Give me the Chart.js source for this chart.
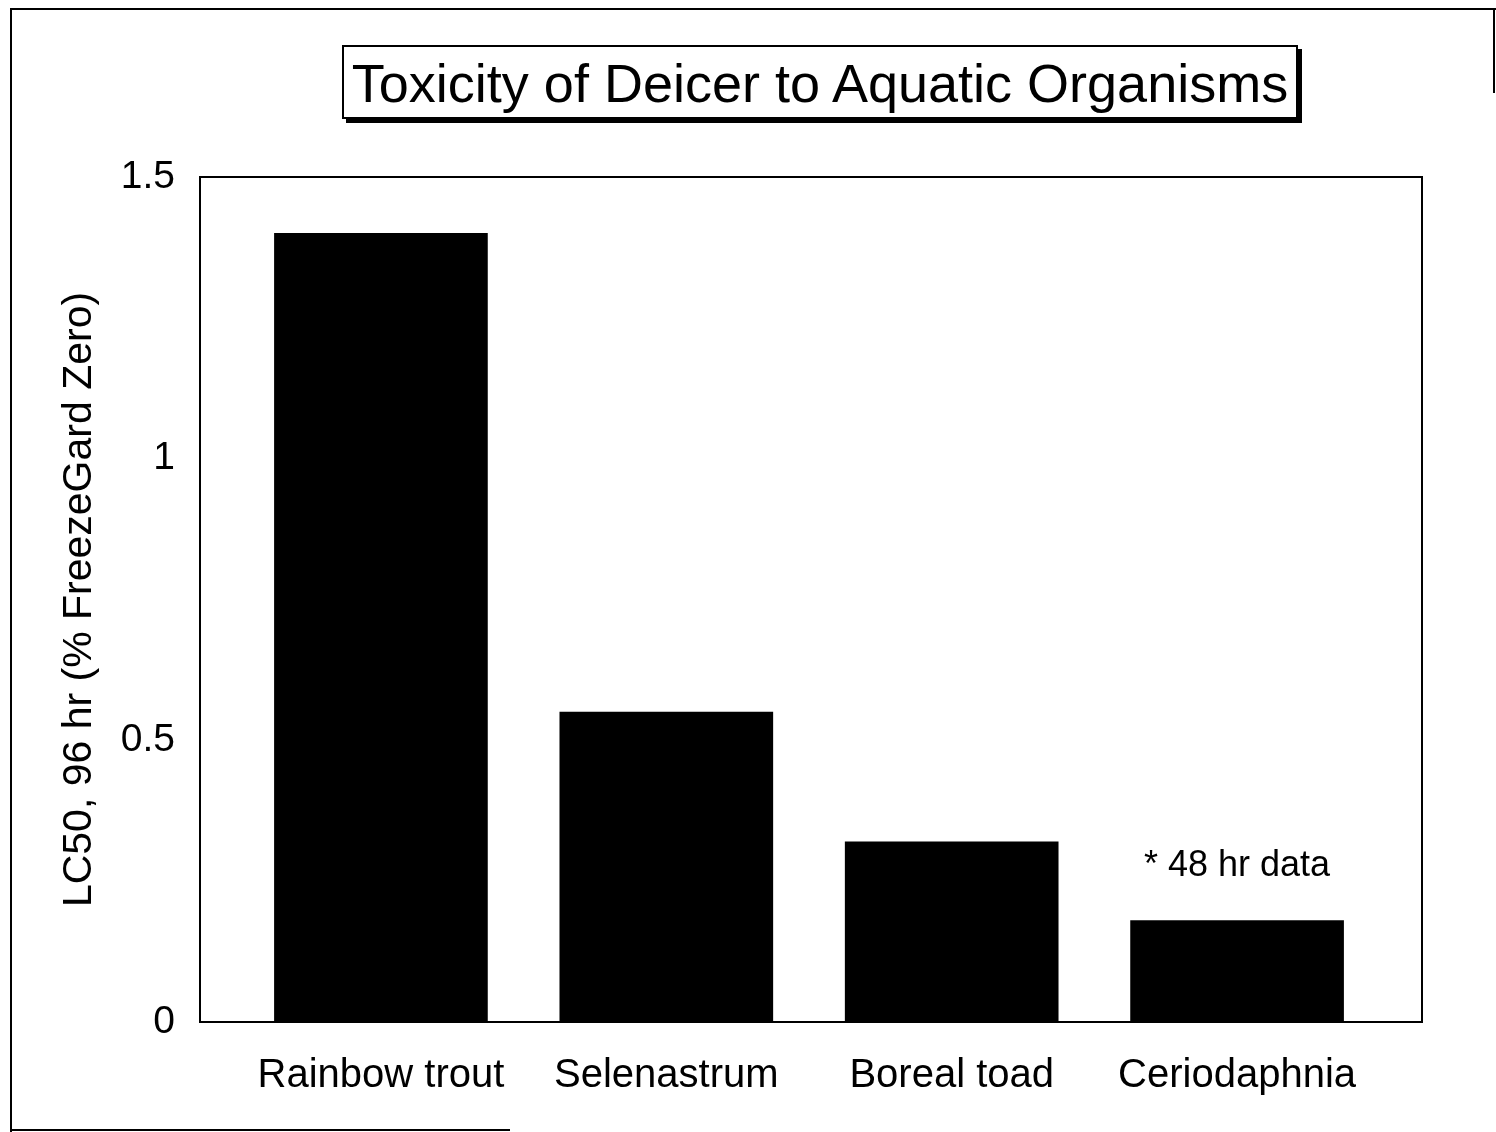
<!DOCTYPE html>
<html>
<head>
<meta charset="utf-8">
<script src="https://cdn.jsdelivr.net/npm/chart.js@4/dist/chart.umd.min.js"></script>
<style>
  html, body { margin: 0; padding: 0; background: #fff; }
  #wrap { position: relative; width: 1496px; height: 1132px; overflow: hidden; }
  #c { position: absolute; left: 0; top: 0; }
  #title {
    position: absolute; left: 342px; top: 45px; width: 956px; height: 74px;
    border: 2px solid #000; background: #fff; box-shadow: 4px 4px 0 #000;
    font-family: "Liberation Sans", Arial, Helvetica, sans-serif; font-size: 54px;
    line-height: 72px; text-align: center; color: #000; box-sizing: border-box;
  }
  .frame { position: absolute; background: #000; }
</style>
</head>
<body>
<div id="wrap">
  <canvas id="c" width="1496" height="1132"></canvas>
  <div class="frame" style="left:10px; top:8px; width:1486px; height:2px;"></div>
  <div class="frame" style="left:10px; top:8px; width:2px; height:1124px;"></div>
  <div class="frame" style="left:10px; top:1129px; width:500px; height:2px;"></div>
  <div class="frame" style="left:1493px; top:8px; width:2px; height:85px;"></div>
  <div id="title">Toxicity of Deicer to Aquatic Organisms</div>
</div>
<script>
const categories = ["Rainbow trout", "Selenastrum", "Boreal toad", "Ceriodaphnia"];
const lc50Values = [1.40, 0.55, 0.32, 0.18];
const yTickValues = [0, 0.5, 1, 1.5];
const yAxisTitle = "LC50, 96 hr (% FreezeGard Zero)";
const noteText = "* 48 hr data";
const noteCategoryIndex = 3;
const noteValue = 0.277;

const FONT = '"Liberation Sans", Arial, Helvetica, sans-serif';

const framePlugin = {
  id: 'frame',
  afterDatasetsDraw(chart) {
    const {ctx, chartArea: a} = chart;
    ctx.save();
    ctx.strokeStyle = '#000';
    ctx.lineWidth = 2;
    ctx.strokeRect(a.left, a.top, a.right - a.left, a.bottom - a.top);
    const x = chart.scales.x.getPixelForValue(noteCategoryIndex);
    const y = chart.scales.y.getPixelForValue(noteValue);
    ctx.fillStyle = '#000';
    ctx.font = '36px ' + FONT;
    ctx.textAlign = 'center';
    ctx.textBaseline = 'middle';
    ctx.fillText(noteText, x, y);
    ctx.restore();
  }
};

new Chart(document.getElementById('c'), {
  type: 'bar',
  data: {
    datasets: [{
      data: lc50Values.map((v, i) => ({x: i, y: v})),
      backgroundColor: '#000',
      borderWidth: 0,
      barThickness: 213
    }]
  },
  options: {
    responsive: false,
    animation: false,
    devicePixelRatio: 1,
    layout: { padding: { top: 177, right: 74, left: 0, bottom: 0 } },
    plugins: { legend: { display: false }, tooltip: { enabled: false }, title: { display: false } },
    scales: {
      x: {
        type: 'linear',
        offset: false,
        min: -0.634,
        max: 3.648,
        grid: { display: false, drawTicks: false, offset: false },
        border: { display: true, color: '#000', width: 2 },
        afterBuildTicks: (s) => { s.ticks = categories.map((c, i) => ({value: i})); },
        afterFit: (s) => { s.height = 110; },
        ticks: {
          autoSkip: false, maxRotation: 0, minRotation: 0,
          padding: 30, color: '#000',
          font: { family: FONT, size: 40 },
          callback: (v) => categories[v]
        }
      },
      y: {
        min: 0,
        max: 1.5,
        grid: { display: false, drawTicks: false },
        border: { display: true, color: '#000', width: 2 },
        afterBuildTicks: (s) => { s.ticks = yTickValues.map(v => ({value: v})); },
        afterFit: (s) => { s.width = 200; },
        ticks: {
          padding: 25, color: '#000',
          font: { family: FONT, size: 39 },
          callback: (v) => String(v)
        },
        title: {
          display: true, text: yAxisTitle, color: '#000',
          font: { family: FONT, size: 41, lineHeight: 1.2 },
          padding: { top: 55, bottom: 0 }
        }
      }
    }
  },
  plugins: [framePlugin]
});
</script>
</body>
</html>
